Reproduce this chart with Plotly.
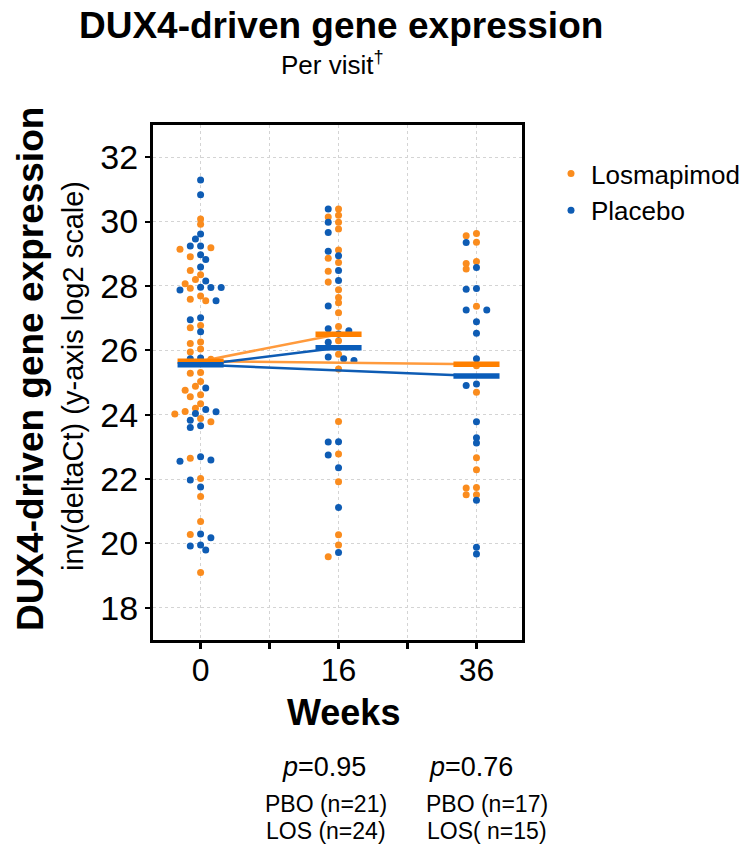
import plotly.graph_objects as go

# ---------------- data ----------------
weeks = ["0", "16", "36"]
los_w0 = [30.08, 29.92, 29.19, 29.14, 28.91, 28.48, 28.35, 28.20, 28.07, 27.93, 27.69, 27.59, 27.54,
          26.77, 26.70, 26.26, 26.21, 26.04, 25.95, 25.72, 25.31, 25.29, 25.03, 24.88, 24.76, 24.62,
          24.56, 24.34, 24.20, 24.10, 24.02, 23.88, 23.78, 22.65, 22.02, 21.46, 20.68, 20.28, 19.10]
pbo_w0 = [31.29, 30.83, 29.61, 29.46, 29.24, 29.24, 28.97, 28.82, 28.59, 28.15, 27.96, 27.95, 27.95,
          27.87, 27.54, 27.01, 26.95, 26.58, 25.76, 25.74, 24.83, 24.16, 24.09, 24.04, 23.83, 23.66,
          23.60, 22.69, 22.59, 22.55, 21.97, 21.75, 20.29, 20.18, 19.95, 19.92, 19.80]
los_w16 = [30.39, 30.20, 30.14, 29.98, 29.77, 29.12, 28.86, 28.73, 28.46, 28.12, 27.88, 27.64, 27.48,
           27.17, 26.74, 26.30, 25.88, 25.42, 23.79, 22.78, 21.92, 20.27, 19.95, 19.59]
pbo_w16 = [30.39, 29.98, 29.66, 29.08, 28.94, 28.48, 28.17, 27.38, 26.67, 26.61, 26.51, 26.25, 25.79,
           25.74, 25.68, 23.16, 23.15, 22.75, 22.35, 21.12, 19.72]
los_w36 = [29.63, 29.56, 29.36, 28.76, 28.70, 28.53, 27.37, 25.52, 24.70, 22.66, 22.29, 21.74, 21.72,
           21.51, 21.51]
pbo_w36 = [29.35, 28.57, 27.92, 27.90, 27.25, 27.25, 26.89, 26.53, 25.74, 24.95, 24.91, 23.78, 23.28,
           23.12, 21.34, 19.88, 19.67]
los_means = [25.66, 26.50, 25.57]
pbo_means = [25.55, 26.08, 25.20]
y_ticks = [18, 20, 22, 24, 26, 28, 30, 32]
p_values = ["0.95", "0.76"]
pbo_n = ["PBO (n=21)", "PBO (n=17)"]
los_n = ["LOS (n=24)", "LOS( n=15)"]

ORANGE = "#FA8C1E"
BLUE = "#0E5CB4"
LINE_OR = "#FF9A3C"
FONT = "Liberation Sans, Arial, sans-serif"

W, H = 753, 844
ML, MR, MT, MB = 153, 231, 125, 204
PW, PH = W - ML - MR, H - MT - MB
X_RANGE = [-0.345, 2.33]
Y_RANGE = [17.0, 33.0]
XS = PW / (X_RANGE[1] - X_RANGE[0])
YS = PH / (Y_RANGE[1] - Y_RANGE[0])


def swarm(groups, sx=10.3, sy=5.0, step=5.15):
    """simple beeswarm with elliptical collision: returns x offsets (data units)"""
    items = []
    for g, vals in enumerate(groups):
        for i, v in enumerate(vals):
            items.append((v, g, i))
    items.sort(key=lambda t: -t[0])
    placed = []
    offs = [[0.0] * len(v) for v in groups]
    cands = [0]
    for k in range(1, 30):
        cands += [-k, k]
    for v, g, i in items:
        yp = v * YS
        for c in cands:
            ox = c * step
            if all(((ox - px) / sx) ** 2 + ((yp - py) / sy) ** 2 >= 0.999 for px, py in placed):
                break
        placed.append((ox, yp))
        offs[g][i] = ox / XS
    return offs


los_all = [los_w0, los_w16, los_w36]
pbo_all = [pbo_w0, pbo_w16, pbo_w36]

lx, ly, bx, by = [], [], [], []
for k in range(3):
    o_los, o_pbo = swarm([los_all[k], pbo_all[k]])
    lx += [k + o for o in o_los]
    ly += los_all[k]
    bx += [k + o for o in o_pbo]
    by += pbo_all[k]

fig = go.Figure()
fig.add_trace(go.Scatter(x=lx, y=ly, mode="markers", name="Losmapimod",
                         marker=dict(color=ORANGE, size=7, line=dict(width=0))))
fig.add_trace(go.Scatter(x=bx, y=by, mode="markers", name="Placebo",
                         marker=dict(color=BLUE, size=7, line=dict(width=0))))

# connecting lines baseline -> each visit
for means, col in [(los_means, LINE_OR), (pbo_means, BLUE)]:
    fig.add_trace(go.Scatter(x=[0, 1, None, 0, 2],
                             y=[means[0], means[1], None, means[0], means[2]],
                             mode="lines", line=dict(color=col, width=2.5),
                             showlegend=False, hoverinfo="skip"))

# mean bars
HW = 0.167
for means, col in [(los_means, "#FF8000"), (pbo_means, "#0A5DBA")]:
    xs, ys = [], []
    for k, m in enumerate(means):
        xs += [k - HW, k + HW, None]
        ys += [m, m, None]
    fig.add_trace(go.Scatter(x=xs, y=ys, mode="lines", line=dict(color=col, width=5.5),
                             showlegend=False, hoverinfo="skip"))


def px(x):
    return (x - ML) / PW


def py(y):
    return (H - MB - y) / PH


ann = []


def text(x, y, s, size, angle=0):
    ann.append(dict(x=px(x), y=py(y), xref="paper", yref="paper", text=s, showarrow=False,
                    xanchor="center", yanchor="middle", textangle=angle,
                    font=dict(family=FONT, size=size, color="black")))


text(341, 25, "<b>DUX4-driven gene expression</b>", 37)
text(332, 63, "Per visit<sup>†</sup>", 26)
text(30, 369, "<b>DUX4-driven gene expression</b>", 37, angle=-90)
text(73, 376, "inv(deltaCt) (y-axis log2 scale)", 29, angle=-90)
text(343, 712, "<b>Weeks</b>", 36)
for xc, pv in zip([324, 471], p_values):
    text(xc, 767, "<i>p</i>=" + pv, 27)
for xc, pb, ls in zip([326, 487], pbo_n, los_n):
    text(xc, 804, pb, 23)
    text(xc, 831, ls, 23)

grid = dict(showgrid=True, gridcolor="#d4d4d4", gridwidth=1, griddash="dot")
fig.update_layout(
    width=W, height=H,
    margin=dict(l=ML, r=MR, t=MT, b=MB, pad=0, autoexpand=False),
    paper_bgcolor="white", plot_bgcolor="white",
    font=dict(family=FONT, color="black"),
    annotations=ann,
    showlegend=True,
    legend=dict(x=px(551), y=py(150), xanchor="left", yanchor="top",
                font=dict(family=FONT, size=26, color="black"),
                bgcolor="rgba(0,0,0,0)", itemwidth=30, tracegroupgap=0),
    xaxis=dict(range=X_RANGE, tickmode="array", tickvals=[0, 1, 2], ticktext=weeks,
               ticks="outside", ticklen=6, tickwidth=3, tickcolor="black",
               tickfont=dict(family=FONT, size=32, color="black"),
               ticklabelstandoff=-6,
               showline=True, linewidth=3, linecolor="black", mirror=True, zeroline=False,
               minor=dict(tick0=0.5, dtick=1, ticks="outside", ticklen=6, tickwidth=3,
                          tickcolor="black", **grid),
               **grid),
    yaxis=dict(range=Y_RANGE, tickmode="array", tickvals=y_ticks,
               ticks="outside", ticklen=5, tickwidth=2, tickcolor="black",
               tickfont=dict(family=FONT, size=34, color="black"),
               showline=True, linewidth=3, linecolor="black", mirror=True, zeroline=False,
               **grid),
)

fig.write_html("out.html")
